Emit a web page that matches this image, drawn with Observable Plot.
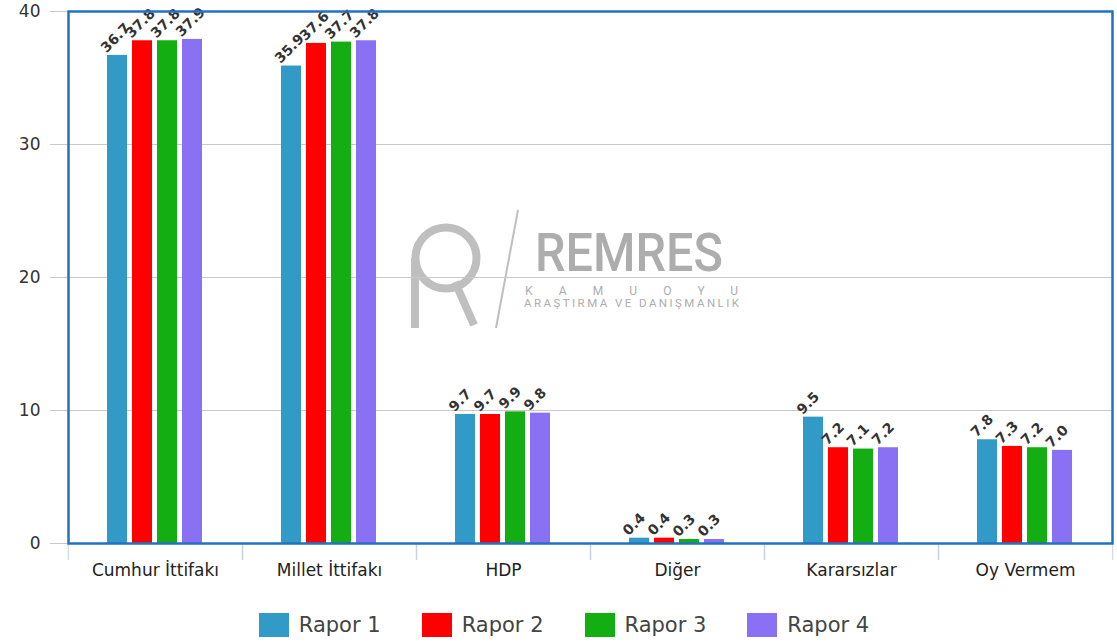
<!DOCTYPE html>
<html>
<head>
<meta charset="utf-8">
<script src="https://cdn.jsdelivr.net/npm/d3@7"></script>
<script src="https://cdn.jsdelivr.net/npm/@observablehq/plot@0.6"></script>
<style>
  html, body { margin: 0; padding: 0; background: #fff; }
  #wrap { position: relative; width: 1117px; height: 643px; overflow: hidden; font-family: "DejaVu Sans", sans-serif; }
  #wm { position: absolute; left: 0; top: 0; }
  #chart { position: absolute; left: 0; top: 0; }
  #legend { position: absolute; left: 0; top: 600px; width: 1117px; height: 43px; display: flex; justify-content: center; align-items: flex-start; gap: 41px; padding-left: 11px; box-sizing: border-box; }
  .item { display: flex; align-items: center; margin-top: 13px; }
  .sw { width: 30px; height: 24px; margin-right: 10px; }
  .lab { font-family: "DejaVu Sans", sans-serif; font-size: 21px; color: #444; line-height: 24px; }
</style>
</head>
<body>
<div id="wrap">
  <svg id="wm" width="1117" height="600">
    <g fill="none" stroke="#b4b4b4" opacity="0.85">
      <circle cx="446" cy="258" r="30.5" stroke-width="8"/>
      <line x1="415" y1="258" x2="415" y2="328" stroke-width="8"/>
      <line x1="455" y1="282" x2="474" y2="325" stroke-width="8"/>
      <line x1="518" y1="210" x2="496" y2="328" stroke-width="2"/>
    </g>
    <g fill="#adadad" font-family="Roboto, 'DejaVu Sans', sans-serif">
      <text x="535" y="271" font-size="54" font-weight="500" textLength="188" lengthAdjust="spacingAndGlyphs">REMRES</text>
      <text x="525" y="295" font-size="12" textLength="213" lengthAdjust="spacing">KAMUOYU</text>
      <text x="524" y="307" font-size="11.5" textLength="215" lengthAdjust="spacing">ARAŞTIRMA VE DANIŞMANLIK</text>
    </g>
  </svg>
  <div id="chart"></div>
  <div id="legend"></div>
</div>
<script>
// ---- data ----
const categories = ["Cumhur İttifakı", "Millet İttifakı", "HDP", "Diğer", "Kararsızlar", "Oy Vermem"];
const series = ["Rapor 1", "Rapor 2", "Rapor 3", "Rapor 4"];
const rapor1 = [36.7, 35.9, 9.7, 0.4, 9.5, 7.8];
const rapor2 = [37.8, 37.6, 9.7, 0.4, 7.2, 7.3];
const rapor3 = [37.8, 37.7, 9.9, 0.3, 7.1, 7.2];
const rapor4 = [37.9, 37.8, 9.8, 0.3, 7.2, 7.0];
const colors = ["#319AC6", "#FF0000", "#12AE12", "#8A70F2"];
const yTicks = [0, 10, 20, 30, 40];
const yGrid = [10, 20, 30];

// ---- build table ----
const values = [rapor1, rapor2, rapor3, rapor4];
const data = categories.flatMap((c, i) => series.map((s, j) => ({cat: c, series: s, value: values[j][i]})));

const W = 1117, H = 600, mL = 66, mR = 4, mT = 11, mB = 57;
const step = (W - mL - mR) / categories.length;

const chart = Plot.plot({
  width: W, height: H,
  marginTop: mT, marginLeft: mL, marginRight: mR, marginBottom: mB,
  style: {background: "transparent", fontFamily: "DejaVu Sans, sans-serif", overflow: "visible"},
  fx: {domain: categories, padding: 0, label: null},
  x: {domain: series, paddingInner: 0.19, paddingOuter: 1.45, axis: null},
  y: {domain: [0, 40], label: null},
  color: {domain: series, range: colors},
  marks: [
    Plot.gridY(yGrid, {stroke: "#c8c8c8", strokeOpacity: 1}),
    Plot.axisY(yTicks, {tickSize: 18, tickPadding: 10, stroke: "#c8c8c8", fill: "#333", fontSize: 17, label: null}),
    Plot.barY(data, {fx: "cat", x: "series", y: "value", fill: "series"}),
    Plot.text(data, {
      fx: "cat", x: "series", y: "value", text: d => d.value.toFixed(1),
      rotate: -45, textAnchor: "start", lineAnchor: "bottom", dx: -11, dy: -2,
      fontWeight: "bold", fontSize: 14, fill: "#333"
    }),
    Plot.axisFx({anchor: "bottom", tickSize: 0, tickPadding: 20, fontSize: 17, fill: "#222", label: null}),
    Plot.axisFx({anchor: "bottom", tickSize: 17, fill: "none", dx: -step / 2, stroke: "#c5cfdc", label: null}),
    Plot.axisFx([categories[categories.length - 1]], {anchor: "bottom", tickSize: 17, fill: "none", dx: step / 2, stroke: "#c5cfdc", label: null}),
    Plot.frame({facet: "super", stroke: "#2272C3", strokeWidth: 2.5})
  ]
});
document.getElementById("chart").appendChild(chart);

// ---- legend ----
const legend = document.getElementById("legend");
series.forEach((s, i) => {
  const item = document.createElement("div");
  item.className = "item";
  const sw = document.createElement("div");
  sw.className = "sw";
  sw.style.background = colors[i];
  const lab = document.createElement("span");
  lab.className = "lab";
  lab.textContent = s;
  item.appendChild(sw);
  item.appendChild(lab);
  legend.appendChild(item);
});
</script>
</body>
</html>
